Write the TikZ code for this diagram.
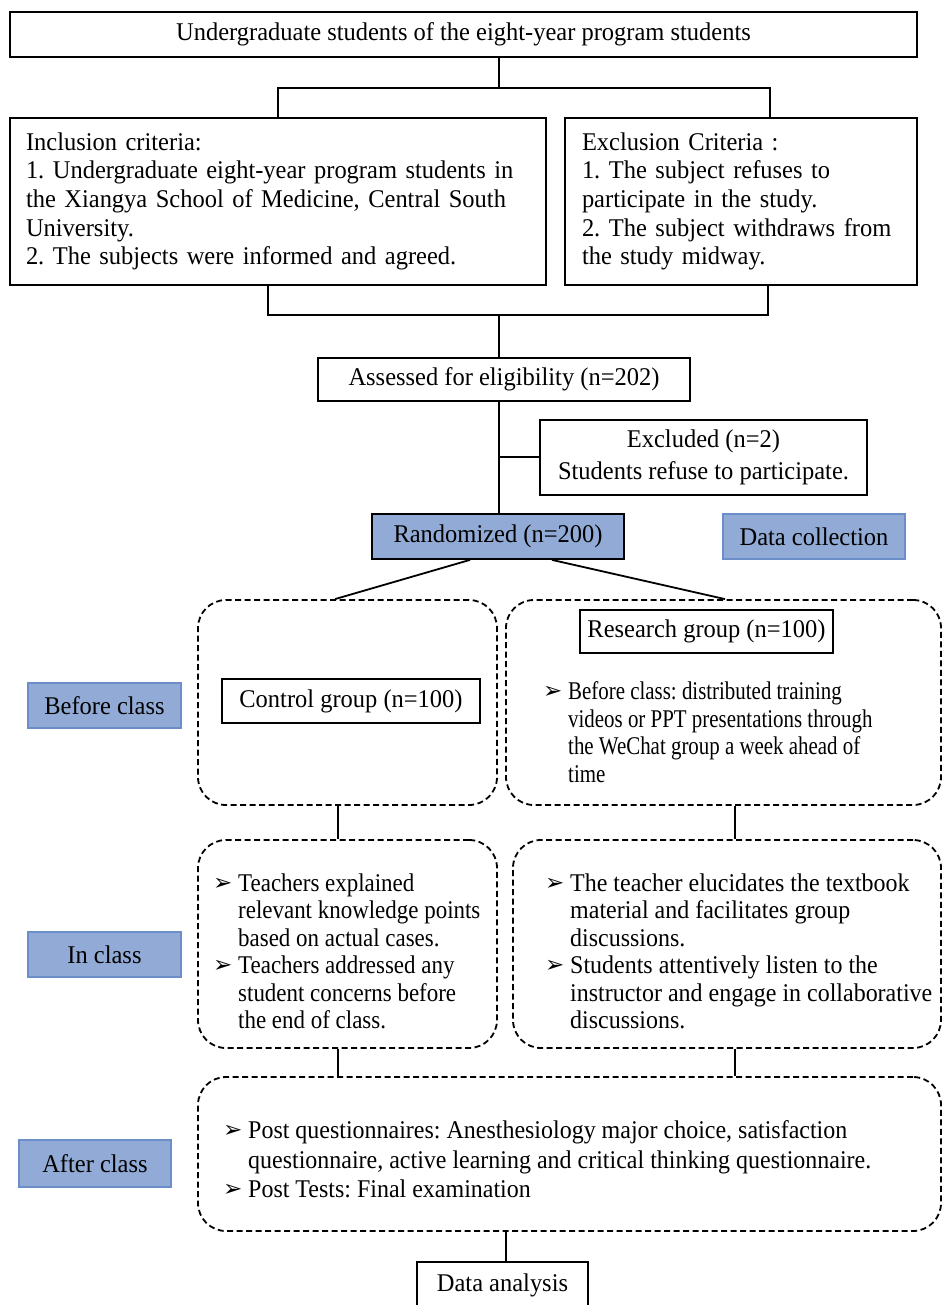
\documentclass[tikz,border=0pt]{standalone}
\usepackage{fontspec}
\setmainfont[FakeStretch=0.96]{Liberation Serif}
\newfontfamily\narrowserif[FakeStretch=0.90]{Liberation Serif}
\newfontfamily\condserif[FakeStretch=0.82]{Liberation Serif}
\newfontfamily\slightserif[FakeStretch=0.94]{Liberation Serif}
\newfontfamily\dejavu{DejaVu Sans}
\definecolor{bfill}{RGB}{146,170,214}
\definecolor{bdraw}{RGB}{108,142,200}
\newcommand\myarr{\makebox[25pt][l]{\raisebox{1pt}{\dejavu\fontsize{23}{23}\selectfont ➢}}}
\newcommand\myind{\hspace*{25pt}}
\frenchspacing
\begin{document}
\begin{tikzpicture}[x=1pt,y=-1pt,
  every node/.style={font=\fontsize{25.5}{28.7}\selectfont, inner sep=0pt},
  box/.style={draw, line width=1.8pt},
  dbox/.style={draw, line width=1.8pt, dash pattern=on 6pt off 3.5pt, rounded corners=28pt},
  bluebox/.style={draw=bdraw, fill=bfill, line width=1.5pt},
  conn/.style={line width=1.8pt},
  txt/.style={anchor=west, align=left}]
\useasboundingbox (0,0) rectangle (943,1305);

% top section
\node[box, minimum width=907pt, minimum height=45pt] (top) at (463.5,34.5)
  {Undergraduate students of the eight-year program students};
\node[box, minimum width=536pt, minimum height=167pt, inner xsep=16pt, text width=504pt, align=left] (inc) at (278,201.5)
  {Inclusion criteria:\\
   1. Undergraduate eight-year program students in\\
   the Xiangya School of Medicine, Central South\\
   University.\\
   2. The subjects were informed and agreed.};
\node[box, minimum width=352pt, minimum height=167pt, inner xsep=17pt, text width=318pt, align=left] (exc) at (741,201.5)
  {Exclusion Criteria :\\
   1. The subject refuses to\\
   participate in the study.\\
   2. The subject withdraws from\\
   the study midway.};
\node[box, minimum width=372pt, minimum height=43pt] (ass) at (504,379.5)
  {Assessed for eligibility (n=202)};
\node[box, minimum width=327pt, minimum height=75pt, align=center] (excl) at (703.5,457.5)
  {Excluded (n=2)\\[3pt] Students refuse to participate.};
\node[box, fill=bfill, minimum width=252pt, minimum height=45pt] (rand) at (498,536.5)
  {Randomized (n=200)};
\node[bluebox, minimum width=182pt, minimum height=45pt] (dc) at (814,536.5)
  {Data collection};

% before class
\node[dbox, minimum width=299pt, minimum height=205pt] (cb) at (347.5,702.5) {};
\node[dbox, minimum width=435pt, minimum height=205pt] (rb) at (723.5,702.5) {};
\node[box, minimum width=258pt, minimum height=44pt] (cg) at (351,701) {Control group (n=100)};
\node[box, minimum width=253pt, minimum height=43pt] (rg) at (706.5,631.5) {Research group (n=100)};
\node[txt, font=\condserif\fontsize{25.5}{27.5}\selectfont] (rbt) at (543,732)
  {\myarr Before class: distributed training\\
   \myind videos or PPT presentations through\\
   \myind the WeChat group a week ahead of\\
   \myind time};
\node[bluebox, minimum width=153pt, minimum height=45pt] (bc) at (104.5,705.5) {Before class};

% in class
\node[dbox, minimum width=299pt, minimum height=208pt] (ci) at (347.5,944) {};
\node[dbox, minimum width=428pt, minimum height=208pt] (ri) at (727,944) {};
\node[txt, font=\narrowserif\fontsize{25.5}{27.5}\selectfont] (cit) at (213,951.5)
  {\myarr Teachers explained\\
   \myind relevant knowledge points\\
   \myind based on actual cases.\\
   \myarr Teachers addressed any\\
   \myind student concerns before\\
   \myind the end of class.};
\node[txt, font=\slightserif\fontsize{25.5}{27.5}\selectfont] (rit) at (545,951.5)
  {\myarr The teacher elucidates the textbook\\
   \myind material and facilitates group\\
   \myind discussions.\\
   \myarr Students attentively listen to the\\
   \myind instructor and engage in collaborative\\
   \myind discussions.};
\node[bluebox, minimum width=153pt, minimum height=45pt] (ic) at (104.5,954.5) {In class};

% after class
\node[dbox, minimum width=743pt, minimum height=154pt] (ac) at (569.5,1154) {};
\node[txt, font=\slightserif\fontsize{25.5}{29.5}\selectfont] (act) at (223,1159.5)
  {\myarr Post questionnaires: Anesthesiology major choice, satisfaction\\
   \myind questionnaire, active learning and critical thinking questionnaire.\\
   \myarr Post Tests: Final examination};
\node[bluebox, minimum width=152pt, minimum height=47pt] (afc) at (95,1163.5) {After class};
\node[box, minimum width=171pt, minimum height=46pt] (da) at (502.5,1285) {Data analysis};

% connector coordinates
\coordinate (v1) at (499,88);
\coordinate (xl) at (278,88);
\coordinate (xr) at (770,88);
\coordinate (bl) at (268,315);
\coordinate (br) at (768,315);
\coordinate (bm) at (499,315);
\coordinate (ex) at (499,457);
\coordinate (r1) at (470,0);
\coordinate (r2) at (552,0);
\coordinate (c1) at (335,0);
\coordinate (c2) at (725,0);
\coordinate (k1) at (338,0);
\coordinate (k2) at (735,0);
\coordinate (dx) at (506,0);

\draw[conn] (top.south -| v1) -- (v1);
\draw[conn] (inc.north -| xl) -- (xl) -- (xr) -- (exc.north -| xr);
\draw[conn] (inc.south -| bl) -- (bl) -- (br) -- (exc.south -| br);
\draw[conn] (bm) -- (ass.north -| bm);
\draw[conn] (ass.south -| bm) -- (rand.north -| bm);
\draw[conn] (ex) -- (excl.west |- ex);
\draw[conn] (rand.south -| r1) -- (cb.north -| c1);
\draw[conn] (rand.south -| r2) -- (rb.north -| c2);
\draw[conn] (cb.south -| k1) -- (ci.north -| k1);
\draw[conn] (rb.south -| k2) -- (ri.north -| k2);
\draw[conn] (ci.south -| k1) -- (ac.north -| k1);
\draw[conn] (ri.south -| k2) -- (ac.north -| k2);
\draw[conn] (ac.south -| dx) -- (da.north -| dx);
\end{tikzpicture}
\end{document}
